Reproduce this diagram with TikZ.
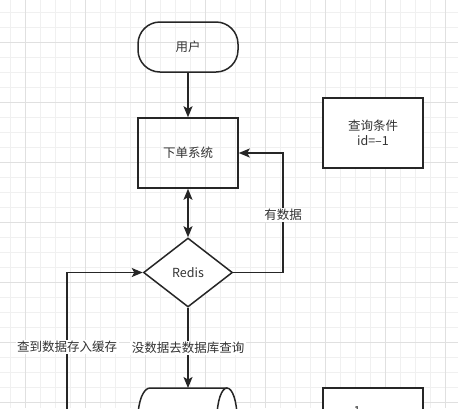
\documentclass[tikz,border=0pt]{standalone}
\usepackage{fontspec}
\setmainfont{Noto Sans CJK SC}
\usetikzlibrary{shapes.geometric,arrows.meta}

\tikzset{
  gridminor/.style={draw=black!6, line width=0.6pt},
  gridmajor/.style={draw=black!12, line width=0.7pt},
  shapeline/.style={draw=black!85, line width=1.5pt, text=black!80, inner sep=0pt},
  terminal/.style={shapeline, rectangle, rounded corners=22pt, minimum width=100pt, minimum height=50pt},
  box/.style={shapeline, rectangle, minimum width=100pt, minimum height=70pt, align=center},
  decision/.style={shapeline, diamond, minimum width=89pt, minimum height=69pt},
  arrow/.style={draw=black!85, line width=1.5pt, -{Stealth[length=11pt, width=9pt, inset=2.5pt]}},
  twoway/.style={arrow, {Stealth[length=11pt, width=9pt, inset=2.5pt]}-{Stealth[length=11pt, width=9pt, inset=2.5pt]}},
  lbl/.style={fill=white, text=black!80, inner sep=1.5pt}
}

\begin{document}
\begin{tikzpicture}[x=1pt, y=-1pt, font=\fontsize{12.5}{15}\selectfont]
  \useasboundingbox (0,0) rectangle (458,408);
  \clip (0,0) rectangle (458,408);
  \fill[white] (0,0) rectangle (458,408);

  % background grid
  \foreach \x in {10,25,...,455} \draw[gridminor] (\x,0) -- (\x,408);
  \foreach \y in {12,27,...,405} \draw[gridminor] (0,\y) -- (458,\y);
  \foreach \x in {25,85,...,445} \draw[gridmajor] (\x,0) -- (\x,408);
  \foreach \y in {42,102,...,402} \draw[gridmajor] (0,\y) -- (458,\y);

  % shapes
  \node[terminal] (user) at (188,47) {用户};
  \node[box] (order) at (188,153) {下单系统};
  \node[decision, fill=white] (redis) at (188,272.5) {Redis};
  \node[box, fill=white] (cond) at (373,133) {查询条件\\id=--1};
  \node[box, fill=white] (result) at (373,423) {};
  \node[text=black!80] (first) at (357,411) {1};

  % database cylinder, lying on its side
  \filldraw[shapeline, fill=white] (227,388) -- (150,388) arc (270:90:12 and 30) -- (227,448);
  \filldraw[shapeline, fill=white] (227,418) ellipse (10 and 30);
  \coordinate (mysql) at (188,388);

  \coordinate (turn) at (283,153);
  \coordinate (back) at (67,430);

  % connectors
  \draw[arrow] (user) -- (order);
  \draw[twoway] (order) -- (redis);
  \draw[arrow] (redis.east) -| (turn) node[lbl, pos=0.74] {有数据} -- (order.east);
  \draw[arrow] (redis) -- (mysql) node[lbl, pos=0.5] {没数据去数据库查询};
  \draw[arrow] (back) |- (redis.west) node[lbl, pos=0.263] {查到数据存入缓存};
\end{tikzpicture}
\end{document}
